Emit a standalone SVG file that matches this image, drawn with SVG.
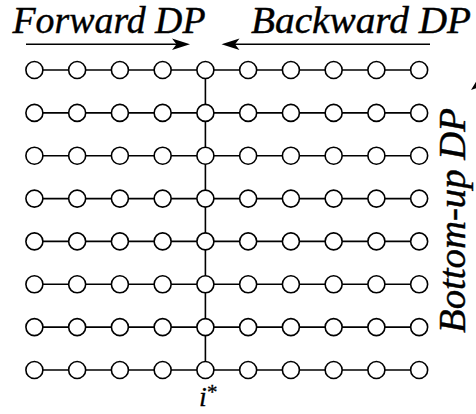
<svg xmlns="http://www.w3.org/2000/svg" width="476" height="414" viewBox="0 0 476 414">
<defs>
<style>
.n{fill:#fff;stroke:#000;stroke-width:1.6}
.e{stroke:#000;stroke-width:1.6;fill:none}
.lbl{font-family:'Liberation Serif','DejaVu Serif',serif;font-style:italic;font-size:37px;fill:#000;stroke:#000;stroke-width:0.4}
.sm{font-family:'Liberation Serif','DejaVu Serif',serif;fill:#000;stroke:#000;stroke-width:0.3}
.ah{fill:#000;stroke:none}
</style>
<circle id="c" r="8.5"/>
</defs>
<rect width="476" height="414" fill="#fff"/>
<g id="connectors">
<line class="e" x1="34.4" y1="70" x2="419.1" y2="70"/>
<line class="e" x1="34.4" y1="112.9" x2="419.1" y2="112.9"/>
<line class="e" x1="34.4" y1="155.7" x2="419.1" y2="155.7"/>
<line class="e" x1="34.4" y1="198.6" x2="419.1" y2="198.6"/>
<line class="e" x1="34.4" y1="241.4" x2="419.1" y2="241.4"/>
<line class="e" x1="34.4" y1="284.3" x2="419.1" y2="284.3"/>
<line class="e" x1="34.4" y1="327.1" x2="419.1" y2="327.1"/>
<line class="e" x1="34.4" y1="370" x2="419.1" y2="370"/>
<line class="e" x1="205.4" y1="70" x2="205.4" y2="370"/>
<line class="e" x1="26" y1="44.3" x2="180" y2="44.3"/>
<path class="ah" d="M190,44.3 L172,38.6 L176.5,44.3 L172,50 Z"/>
<line class="e" x1="230" y1="44.3" x2="430" y2="44.3"/>
<path class="ah" d="M221.5,44.3 L239.5,38.6 L235,44.3 L239.5,50 Z"/>
<line class="e" x1="482" y1="82" x2="482" y2="340"/>
<path class="ah" d="M482,72 L471,90 L482,86 L493,90 Z"/>
</g>
<g id="labels">
<text class="lbl" x="12.5" y="33" textLength="193" lengthAdjust="spacingAndGlyphs">Forward DP</text>
<text class="lbl" x="251" y="33" textLength="220" lengthAdjust="spacingAndGlyphs">Backward DP</text>
<text class="lbl" transform="translate(465,333) rotate(-90)" x="0" y="0" textLength="225" lengthAdjust="spacingAndGlyphs">Bottom-up DP</text>
<text class="sm" x="199" y="406" font-style="italic" font-size="28">i</text>
<text class="sm" x="207" y="399" font-size="21">*</text>
</g>
<g id="r0">
<g id="n0_0"><use href="#c" class="n" x="34.4" y="70"/></g>
<g id="n0_1"><use href="#c" class="n" x="77.15" y="70"/></g>
<g id="n0_2"><use href="#c" class="n" x="119.9" y="70"/></g>
<g id="n0_3"><use href="#c" class="n" x="162.65" y="70"/></g>
<g id="n0_4"><use href="#c" class="n" x="205.4" y="70"/></g>
<g id="n0_5"><use href="#c" class="n" x="248.15" y="70"/></g>
<g id="n0_6"><use href="#c" class="n" x="290.9" y="70"/></g>
<g id="n0_7"><use href="#c" class="n" x="333.65" y="70"/></g>
<g id="n0_8"><use href="#c" class="n" x="376.4" y="70"/></g>
<g id="n0_9"><use href="#c" class="n" x="419.15" y="70"/></g>
</g>
<g id="r1">
<g id="n1_0"><use href="#c" class="n" x="34.4" y="112.9"/></g>
<g id="n1_1"><use href="#c" class="n" x="77.15" y="112.9"/></g>
<g id="n1_2"><use href="#c" class="n" x="119.9" y="112.9"/></g>
<g id="n1_3"><use href="#c" class="n" x="162.65" y="112.9"/></g>
<g id="n1_4"><use href="#c" class="n" x="205.4" y="112.9"/></g>
<g id="n1_5"><use href="#c" class="n" x="248.15" y="112.9"/></g>
<g id="n1_6"><use href="#c" class="n" x="290.9" y="112.9"/></g>
<g id="n1_7"><use href="#c" class="n" x="333.65" y="112.9"/></g>
<g id="n1_8"><use href="#c" class="n" x="376.4" y="112.9"/></g>
<g id="n1_9"><use href="#c" class="n" x="419.15" y="112.9"/></g>
</g>
<g id="r2">
<g id="n2_0"><use href="#c" class="n" x="34.4" y="155.7"/></g>
<g id="n2_1"><use href="#c" class="n" x="77.15" y="155.7"/></g>
<g id="n2_2"><use href="#c" class="n" x="119.9" y="155.7"/></g>
<g id="n2_3"><use href="#c" class="n" x="162.65" y="155.7"/></g>
<g id="n2_4"><use href="#c" class="n" x="205.4" y="155.7"/></g>
<g id="n2_5"><use href="#c" class="n" x="248.15" y="155.7"/></g>
<g id="n2_6"><use href="#c" class="n" x="290.9" y="155.7"/></g>
<g id="n2_7"><use href="#c" class="n" x="333.65" y="155.7"/></g>
<g id="n2_8"><use href="#c" class="n" x="376.4" y="155.7"/></g>
<g id="n2_9"><use href="#c" class="n" x="419.15" y="155.7"/></g>
</g>
<g id="r3">
<g id="n3_0"><use href="#c" class="n" x="34.4" y="198.6"/></g>
<g id="n3_1"><use href="#c" class="n" x="77.15" y="198.6"/></g>
<g id="n3_2"><use href="#c" class="n" x="119.9" y="198.6"/></g>
<g id="n3_3"><use href="#c" class="n" x="162.65" y="198.6"/></g>
<g id="n3_4"><use href="#c" class="n" x="205.4" y="198.6"/></g>
<g id="n3_5"><use href="#c" class="n" x="248.15" y="198.6"/></g>
<g id="n3_6"><use href="#c" class="n" x="290.9" y="198.6"/></g>
<g id="n3_7"><use href="#c" class="n" x="333.65" y="198.6"/></g>
<g id="n3_8"><use href="#c" class="n" x="376.4" y="198.6"/></g>
<g id="n3_9"><use href="#c" class="n" x="419.15" y="198.6"/></g>
</g>
<g id="r4">
<g id="n4_0"><use href="#c" class="n" x="34.4" y="241.4"/></g>
<g id="n4_1"><use href="#c" class="n" x="77.15" y="241.4"/></g>
<g id="n4_2"><use href="#c" class="n" x="119.9" y="241.4"/></g>
<g id="n4_3"><use href="#c" class="n" x="162.65" y="241.4"/></g>
<g id="n4_4"><use href="#c" class="n" x="205.4" y="241.4"/></g>
<g id="n4_5"><use href="#c" class="n" x="248.15" y="241.4"/></g>
<g id="n4_6"><use href="#c" class="n" x="290.9" y="241.4"/></g>
<g id="n4_7"><use href="#c" class="n" x="333.65" y="241.4"/></g>
<g id="n4_8"><use href="#c" class="n" x="376.4" y="241.4"/></g>
<g id="n4_9"><use href="#c" class="n" x="419.15" y="241.4"/></g>
</g>
<g id="r5">
<g id="n5_0"><use href="#c" class="n" x="34.4" y="284.3"/></g>
<g id="n5_1"><use href="#c" class="n" x="77.15" y="284.3"/></g>
<g id="n5_2"><use href="#c" class="n" x="119.9" y="284.3"/></g>
<g id="n5_3"><use href="#c" class="n" x="162.65" y="284.3"/></g>
<g id="n5_4"><use href="#c" class="n" x="205.4" y="284.3"/></g>
<g id="n5_5"><use href="#c" class="n" x="248.15" y="284.3"/></g>
<g id="n5_6"><use href="#c" class="n" x="290.9" y="284.3"/></g>
<g id="n5_7"><use href="#c" class="n" x="333.65" y="284.3"/></g>
<g id="n5_8"><use href="#c" class="n" x="376.4" y="284.3"/></g>
<g id="n5_9"><use href="#c" class="n" x="419.15" y="284.3"/></g>
</g>
<g id="r6">
<g id="n6_0"><use href="#c" class="n" x="34.4" y="327.1"/></g>
<g id="n6_1"><use href="#c" class="n" x="77.15" y="327.1"/></g>
<g id="n6_2"><use href="#c" class="n" x="119.9" y="327.1"/></g>
<g id="n6_3"><use href="#c" class="n" x="162.65" y="327.1"/></g>
<g id="n6_4"><use href="#c" class="n" x="205.4" y="327.1"/></g>
<g id="n6_5"><use href="#c" class="n" x="248.15" y="327.1"/></g>
<g id="n6_6"><use href="#c" class="n" x="290.9" y="327.1"/></g>
<g id="n6_7"><use href="#c" class="n" x="333.65" y="327.1"/></g>
<g id="n6_8"><use href="#c" class="n" x="376.4" y="327.1"/></g>
<g id="n6_9"><use href="#c" class="n" x="419.15" y="327.1"/></g>
</g>
<g id="r7">
<g id="n7_0"><use href="#c" class="n" x="34.4" y="370"/></g>
<g id="n7_1"><use href="#c" class="n" x="77.15" y="370"/></g>
<g id="n7_2"><use href="#c" class="n" x="119.9" y="370"/></g>
<g id="n7_3"><use href="#c" class="n" x="162.65" y="370"/></g>
<g id="n7_4"><use href="#c" class="n" x="205.4" y="370"/></g>
<g id="n7_5"><use href="#c" class="n" x="248.15" y="370"/></g>
<g id="n7_6"><use href="#c" class="n" x="290.9" y="370"/></g>
<g id="n7_7"><use href="#c" class="n" x="333.65" y="370"/></g>
<g id="n7_8"><use href="#c" class="n" x="376.4" y="370"/></g>
<g id="n7_9"><use href="#c" class="n" x="419.15" y="370"/></g>
</g>
</svg>
